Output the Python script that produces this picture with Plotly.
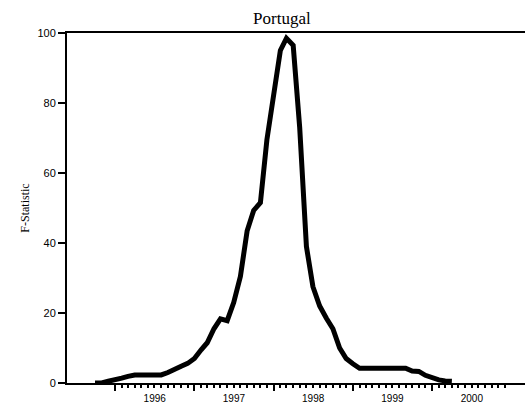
import plotly.graph_objects as go
import pandas as pd

# monthly F-statistic, Oct 1995 .. Apr 2000
first_month = "1995-10-01"
last_month = "2000-04-01"
fstat = [0, 0, 0.5, 0.8, 1.4, 1.9, 2.3, 2.3, 2.3, 2.3,
         2.3, 3.0, 4.0, 4.8, 5.6, 7.0, 9.5, 11.5, 15.5, 18.3,
         17.8, 23, 30.5, 43.5, 49.3, 51.5, 69.5, 83, 95, 98.5,
         96.5, 73, 39, 27.5, 22, 18.5, 15.5, 10, 7, 5.5,
         4.2, 4.2, 4.2, 4.2, 4.2, 4.2, 4.2, 4.2, 3.4, 3.3,
         2.2, 1.5, 0.9, 0.6, 0.5]
years = [1996, 1997, 1998, 1999, 2000]
y_ticks = [0, 20, 40, 60, 80, 100]

months = pd.date_range(first_month, last_month, freq="MS")

year_starts = [f"{y}-01-01" for y in years]
year_mids = [f"{y}-07-02" for y in years]
minor_months = [d for d in pd.date_range("1996-02-01", "2000-12-01", freq="MS")
                if d.month != 1]

x_range = ["1995-05-25", "2001-03-04"]
serif = "Liberation Serif"
sans = "Liberation Sans"

fig = go.Figure()
fig.add_trace(go.Scatter(x=months, y=fstat, mode="lines",
                         line=dict(color="black", width=5), showlegend=False))
# invisible trace to activate label axis
fig.add_trace(go.Scatter(x=[months[0]], y=[0], xaxis="x2", mode="markers",
                         marker=dict(opacity=0), showlegend=False, hoverinfo="skip"))

fig.update_layout(
    width=525, height=405,
    margin=dict(l=67, r=0, t=33, b=22),
    paper_bgcolor="white", plot_bgcolor="white",
    title=dict(text="Portugal", x=0.537, xanchor="center", y=1 - 18 / 405,
               yanchor="middle", font=dict(family=serif, size=17, color="black")),
    xaxis=dict(type="date", range=x_range, showgrid=False, zeroline=False,
               showline=True, linecolor="black", linewidth=2, mirror=True,
               tickmode="array", tickvals=year_starts, showticklabels=False,
               ticks="outside", ticklen=6, tickwidth=2, tickcolor="black",
               minor=dict(tickmode="array", tickvals=minor_months, ticks="outside",
                          ticklen=3, tickwidth=1.5, tickcolor="black", showgrid=False)),
    xaxis2=dict(type="date", range=x_range, overlaying="x", anchor="y", side="bottom",
                showgrid=False, zeroline=False, showline=False,
                tickmode="array", tickvals=year_mids, ticktext=[str(y) for y in years],
                ticks="outside", ticklen=6, tickcolor="rgba(0,0,0,0)",
                tickfont=dict(family=sans, size=10, color="black")),
    yaxis=dict(range=[0, 100], showgrid=False, zeroline=False,
               showline=True, linecolor="black", linewidth=2,
               tickmode="array", tickvals=y_ticks,
               ticks="outside", ticklen=7, tickwidth=2, tickcolor="black",
               tickfont=dict(family=sans, size=11, color="black"),
               title=dict(text="F-Statistic", standoff=5,
                          font=dict(family=serif, size=12, color="black"))),
)

fig.write_html("out.html", config={"displayModeBar": False},
               post_script="document.body.style.margin = '0';")
